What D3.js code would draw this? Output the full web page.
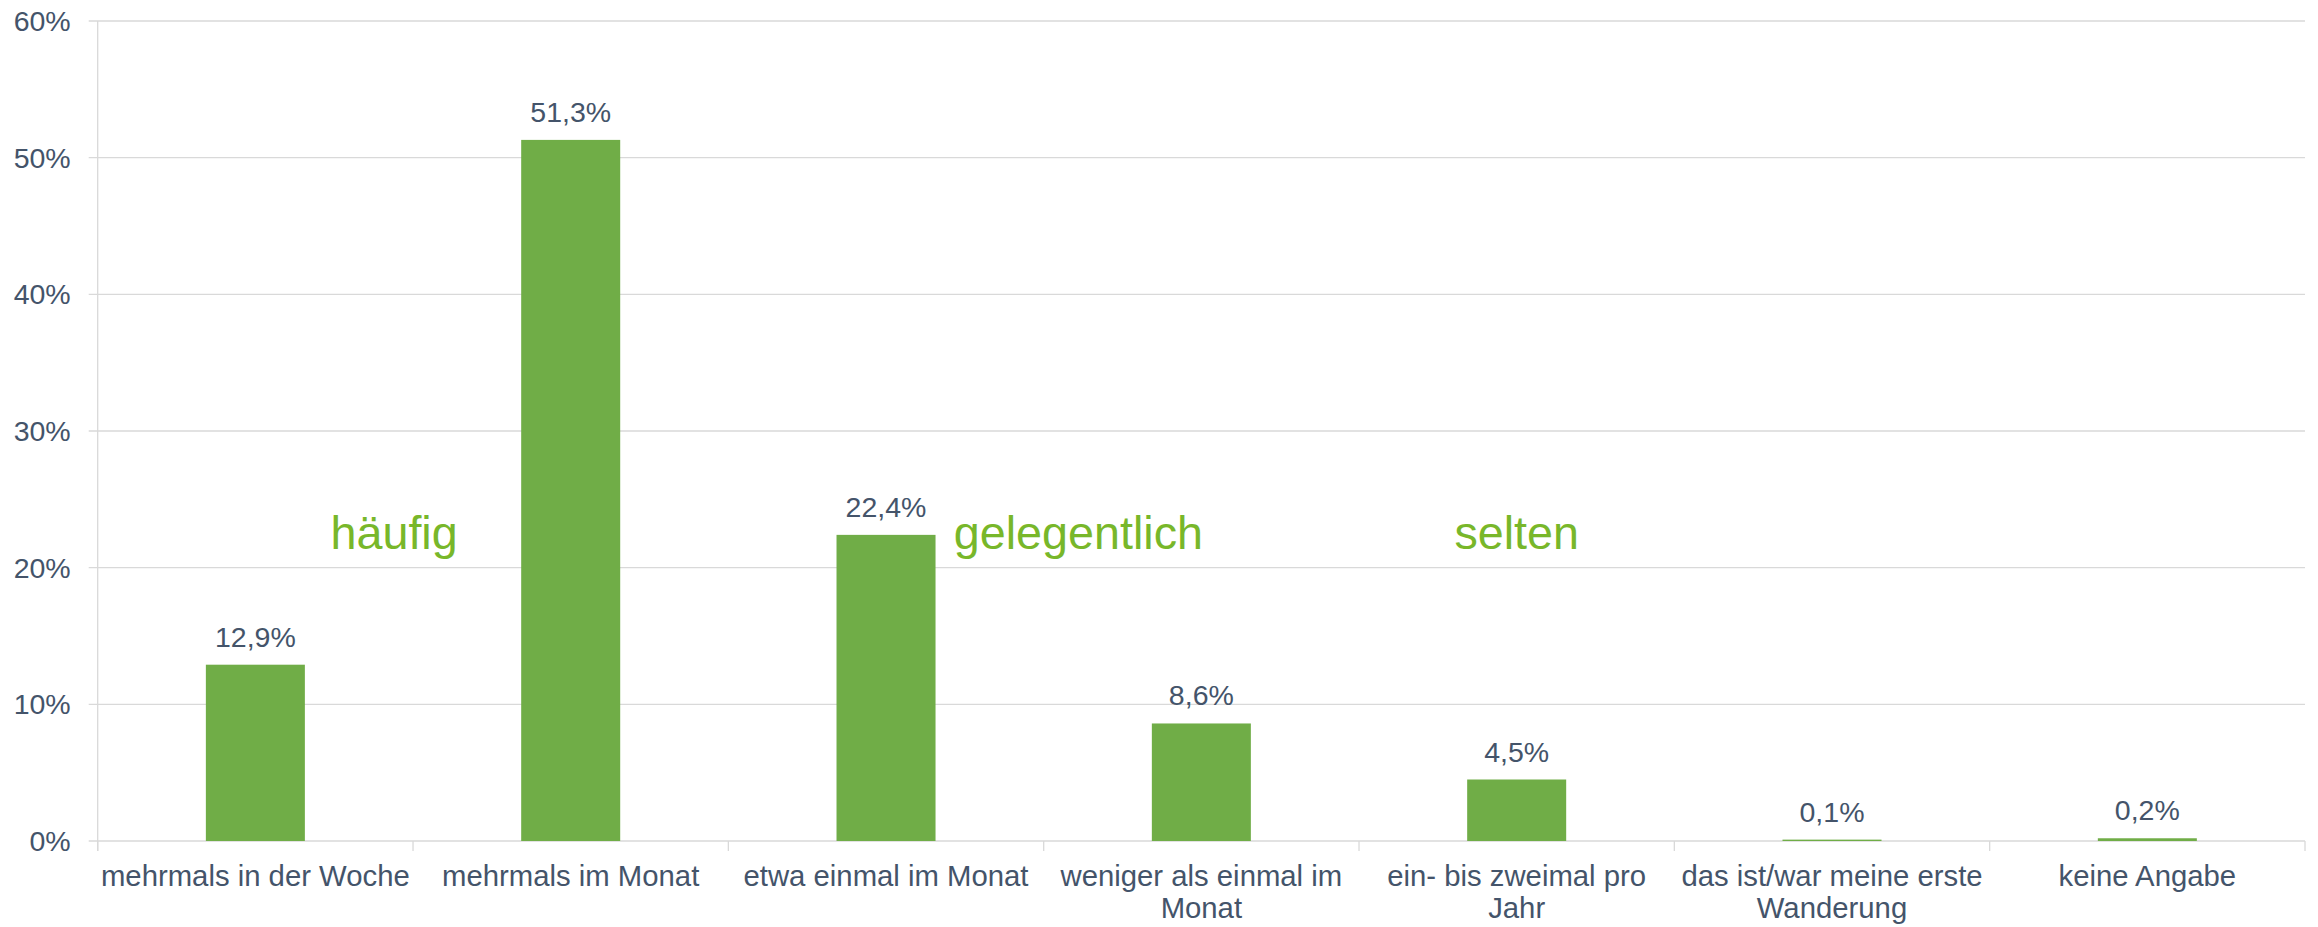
<!DOCTYPE html>
<html>
<head>
<meta charset="utf-8">
<script src="https://cdn.jsdelivr.net/npm/d3@7"></script>
<style>
    body { margin: 0; background: #ffffff; }
    text { font-family: "Liberation Sans", Arial, sans-serif; }
</style>
</head>
<body>
<svg id="chart" width="2318" height="927"></svg>
<script>
// categories and values (percent)
const categories = [
    "mehrmals in der Woche",
    "mehrmals im Monat",
    "etwa einmal im Monat",
    "weniger als einmal im Monat",
    "ein- bis zweimal pro Jahr",
    "das ist/war meine erste Wanderung",
    "keine Angabe"
];
const values = [12.9, 51.3, 22.4, 8.6, 4.5, 0.1, 0.2];
const yTicks = [0, 10, 20, 30, 40, 50, 60];
const zoneLabels = ["häufig", "gelegentlich", "selten"];

// layout
const width = 2318, height = 927;
const margin = { top: 21, right: 13, bottom: 86, left: 97.7 };
const textColor = "#44546a";
const gridColor = "#d9d9d9";
const barColor = "#70ad47";
const zoneColor = "#78b72a";
const fontSize = 28.5;
const catFontSize = 29.3;

const svg = d3.select("#chart");

const x = d3.scaleBand()
    .domain(categories)
    .range([margin.left, width - margin.right])
    .paddingInner(0.686)
    .paddingOuter(0.343);

const y = d3.scaleLinear()
    .domain([0, 60])
    .range([height - margin.bottom, margin.top]);

// gridlines + y ticks
const grid = svg.append("g");
grid.selectAll("line")
    .data(yTicks)
    .join("line")
    .attr("x1", margin.left - 9)
    .attr("x2", width - margin.right)
    .attr("y1", d => y(d))
    .attr("y2", d => y(d))
    .attr("stroke", gridColor)
    .attr("stroke-width", 1.3);

grid.selectAll("text")
    .data(yTicks)
    .join("text")
    .attr("x", margin.left - 27)
    .attr("y", d => y(d))
    .attr("dy", "0.35em")
    .attr("text-anchor", "end")
    .attr("font-size", fontSize)
    .attr("fill", textColor)
    .text(d => d + "%");

// y axis line
svg.append("line")
    .attr("x1", margin.left).attr("x2", margin.left)
    .attr("y1", y(60)).attr("y2", y(0) + 10)
    .attr("stroke", gridColor)
    .attr("stroke-width", 1.3);

// x category boundary ticks
const step = x.step();
const boundaries = d3.range(categories.length + 1).map(i => margin.left + i * step);
svg.append("g").selectAll("line")
    .data(boundaries)
    .join("line")
    .attr("x1", d => d).attr("x2", d => d)
    .attr("y1", y(0)).attr("y2", y(0) + 10)
    .attr("stroke", gridColor)
    .attr("stroke-width", 1.3);

// bars
svg.append("g").selectAll("rect")
    .data(values)
    .join("rect")
    .attr("x", (d, i) => x(categories[i]))
    .attr("width", x.bandwidth())
    .attr("y", d => y(d))
    .attr("height", d => y(0) - y(d))
    .attr("fill", barColor);

// value labels
svg.append("g").selectAll("text")
    .data(values)
    .join("text")
    .attr("x", (d, i) => x(categories[i]) + x.bandwidth() / 2)
    .attr("y", d => y(d) - 18)
    .attr("text-anchor", "middle")
    .attr("font-size", fontSize)
    .attr("fill", textColor)
    .text(d => d.toFixed(1).replace(".", ",") + "%");

// category labels, wrapped to the band step
const catLabels = svg.append("g").selectAll("text")
    .data(categories)
    .join("text")
    .attr("x", d => x(d) + x.bandwidth() / 2)
    .attr("y", y(0) + 45)
    .attr("text-anchor", "middle")
    .attr("font-size", catFontSize)
    .attr("fill", textColor);

catLabels.each(function(d) {
    const t = d3.select(this);
    const words = d.split(" ");
    let line = [];
    let tspan = t.append("tspan").attr("x", t.attr("x")).attr("dy", 0);
    words.forEach(w => {
        line.push(w);
        tspan.text(line.join(" "));
        if (tspan.node().getComputedTextLength() > step - 4 && line.length > 1) {
            line.pop();
            tspan.text(line.join(" "));
            line = [w];
            tspan = t.append("tspan").attr("x", t.attr("x")).attr("dy", 32).text(w);
        }
    });
});

// zone annotations (positions in category units)
const unit = d3.scaleLinear().domain([0, categories.length]).range([margin.left, width - margin.right]);
const zonePos = [0.94, 3.11, 4.5];
svg.append("g").selectAll("text")
    .data(zoneLabels)
    .join("text")
    .attr("x", (d, i) => unit(zonePos[i]))
    .attr("y", y(21.35))
    .attr("text-anchor", "middle")
    .attr("font-size", 46.7)
    .attr("fill", zoneColor)
    .text(d => d);
</script>
</body>
</html>
